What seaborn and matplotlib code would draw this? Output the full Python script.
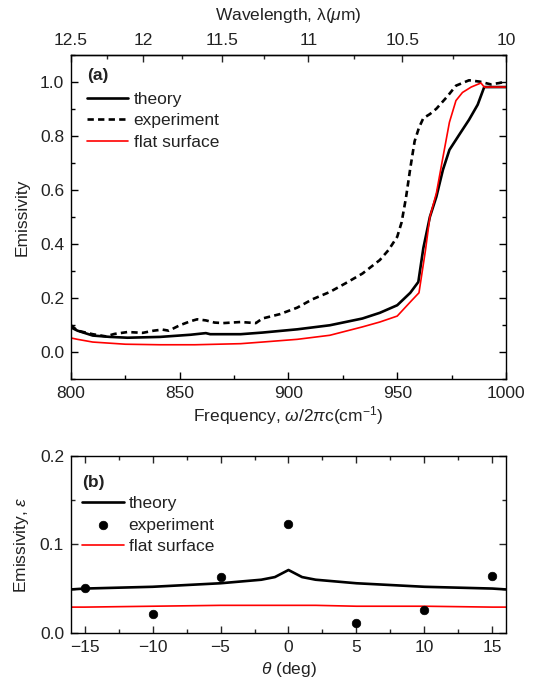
import numpy as np
import matplotlib
matplotlib.use("Agg")
import matplotlib.pyplot as plt
import seaborn as sns

# ---------------- data: panel (a) ----------------
theory_freq = [800, 803, 810, 818, 826, 841, 855, 862, 864, 878, 888, 904, 919, 934, 942,
               950, 956, 959.7, 962, 965, 968, 971, 974, 979, 983, 987, 990, 1000]
theory_em = [0.092, 0.080, 0.062, 0.057, 0.054, 0.057, 0.065, 0.071, 0.067, 0.067, 0.073,
             0.085, 0.100, 0.125, 0.146, 0.174, 0.220, 0.260, 0.385, 0.500, 0.575, 0.674,
             0.748, 0.810, 0.859, 0.915, 0.980, 0.980]

exp_freq = [800, 803, 810, 816, 820, 826, 833, 838, 842, 845, 850, 855, 858, 862, 866, 870,
            878, 885, 888, 896, 904, 911, 919, 926, 934, 942, 946, 950, 952, 954, 956, 958,
            960, 962, 965, 968, 973, 977, 983, 988, 993, 997, 1000]
exp_em = [0.100, 0.080, 0.067, 0.059, 0.068, 0.075, 0.072, 0.080, 0.084, 0.080, 0.100, 0.115,
          0.122, 0.118, 0.110, 0.108, 0.112, 0.108, 0.125, 0.141, 0.165, 0.196, 0.223, 0.254,
          0.291, 0.341, 0.378, 0.427, 0.480, 0.570, 0.680, 0.780, 0.830, 0.865, 0.880, 0.900,
          0.945, 0.985, 1.005, 1.000, 0.990, 0.995, 1.000]

flat_freq = [800, 803, 810, 825, 841, 857, 878, 888, 904, 919, 934, 942, 950, 956, 960, 963,
             965, 968, 971, 974, 977, 980, 984, 988.5, 990, 1000]
flat_em = [0.053, 0.048, 0.038, 0.030, 0.028, 0.028, 0.032, 0.038, 0.048, 0.063, 0.094, 0.112,
           0.134, 0.186, 0.220, 0.378, 0.500, 0.588, 0.720, 0.850, 0.930, 0.960, 0.980, 0.995,
           0.980, 0.980]

wl_ticks = [12.5, 12, 11.5, 11, 10.5, 10]
wl_labels = ["12.5", "12", "11.5", "11", "10.5", "10"]
wl_minor = [12.25, 11.75, 11.25, 10.75, 10.25]

# ---------------- data: panel (b) ----------------
theta_line = [-16, -15, -10, -5, -2, -1, 0, 1, 2, 5, 10, 15, 16]
theory_b = [0.049, 0.050, 0.052, 0.056, 0.060, 0.063, 0.071, 0.063, 0.060, 0.056, 0.052, 0.050, 0.049]
flat_b = [0.029, 0.029, 0.030, 0.031, 0.031, 0.031, 0.031, 0.031, 0.031, 0.030, 0.030, 0.029, 0.029]
exp_theta = [-15, -10, -5, 0, 5, 10, 15]
exp_b = [0.051, 0.021, 0.063, 0.123, 0.011, 0.026, 0.064]

# ---------------- style ----------------
sns.set_style("ticks")
plt.rcParams['font.family'] = ['Liberation Sans', 'DejaVu Sans']
plt.rcParams['mathtext.fontset'] = 'custom'
plt.rcParams['mathtext.rm'] = 'Liberation Sans'
plt.rcParams['mathtext.it'] = 'Liberation Sans:italic'
plt.rcParams['mathtext.bf'] = 'Liberation Sans:bold'
plt.rcParams['axes.linewidth'] = 1.0
FS = 12.5
TXT = '#222222'

fig = plt.figure(figsize=(5.33, 6.83), dpi=100)
axa = fig.add_axes([0.1332, 0.4445, 0.8161, 0.4756])
axb = fig.add_axes([0.1332, 0.0736, 0.8161, 0.2587])

RED = '#ff0000'

# ----- panel (a) -----
sns.lineplot(x=theory_freq, y=theory_em, ax=axa, color='black', lw=1.9, sort=False,
             estimator=None, label='theory')
sns.lineplot(x=exp_freq, y=exp_em, ax=axa, color='black', lw=1.9, sort=False,
             estimator=None, label='experiment', linestyle=(0, (2.4, 1.6)))
sns.lineplot(x=flat_freq, y=flat_em, ax=axa, color=RED, lw=1.2, sort=False,
             estimator=None, label='flat surface')

axa.set_xlim(800, 1000)
axa.set_ylim(-0.1, 1.1)
axa.set_xticks([800, 850, 900, 950, 1000])
axa.set_xticks([825, 875, 925, 975], minor=True)
axa.set_yticks([0.0, 0.2, 0.4, 0.6, 0.8, 1.0])
axa.set_yticks([-0.1, 0.1, 0.3, 0.5, 0.7, 0.9, 1.1], minor=True)
axa.set_yticklabels(['0.0', '0.2', '0.4', '0.6', '0.8', '1.0'])
axa.tick_params(which='both', direction='in', left=True, right=True, top=False, bottom=True,
                labelsize=FS, colors='black', labelcolor=TXT, width=1.0)
axa.tick_params(which='major', length=5, pad=5)
axa.tick_params(which='minor', length=3)
axa.set_xlabel(r'Frequency, $\omega$/2$\pi$c(cm$^{-1}$)', fontsize=FS, color=TXT, labelpad=2)
axa.set_ylabel('Emissivity', fontsize=FS, color=TXT, labelpad=7)

with np.errstate(divide='ignore', invalid='ignore'):
    sec = axa.secondary_xaxis('top', functions=(lambda f: 1e4 / np.asarray(f, float),
                                                 lambda l: 1e4 / np.asarray(l, float)))
sec.set_xticks(wl_ticks)
sec.set_xticklabels(wl_labels)
sec.set_xticks(wl_minor, minor=True)
sec.tick_params(which='both', direction='in', labelsize=FS, labelcolor=TXT, width=1.0)
sec.tick_params(which='major', length=5, pad=5)
sec.tick_params(which='minor', length=3)
sec.set_xlabel(r'Wavelength, λ($\mu$m)', fontsize=FS, color=TXT, labelpad=9)

axa.text(0.038, 0.937, '(a)', transform=axa.transAxes, fontsize=FS, fontweight='bold',
         color=TXT, va='center', ha='left')
h, l = axa.get_legend_handles_labels()
axa.legend(h, l, loc='upper left', bbox_to_anchor=(0.036, 0.886), frameon=False,
           fontsize=FS, handlelength=2.4, handletextpad=0.3, labelspacing=0.37,
           borderpad=0, borderaxespad=0, labelcolor=TXT)

# ----- panel (b) -----
sns.lineplot(x=theta_line, y=theory_b, ax=axb, color='black', lw=1.9, sort=False,
             estimator=None, label='theory')
sns.scatterplot(x=exp_theta, y=exp_b, ax=axb, color='black', s=38, edgecolor='black',
                linewidth=0.5, label='experiment', zorder=5)
sns.lineplot(x=theta_line, y=flat_b, ax=axb, color=RED, lw=1.2, sort=False,
             estimator=None, label='flat surface')

axb.set_xlim(-16, 16)
axb.set_ylim(0, 0.2)
axb.set_xticks([-15, -10, -5, 0, 5, 10, 15])
axb.set_xticks([-12.5, -7.5, -2.5, 2.5, 7.5, 12.5], minor=True)
axb.set_yticks([0.0, 0.1, 0.2])
axb.set_yticklabels(['0.0', '0.1', '0.2'])
axb.set_yticks([0.05, 0.15], minor=True)
axb.tick_params(which='both', direction='in', left=True, right=True, top=True, bottom=True,
                labelsize=FS, labelcolor=TXT, width=1.0)
axb.tick_params(which='major', length=5, pad=5)
axb.tick_params(which='minor', length=3)
axb.set_xlabel(r'$\theta$ (deg)', fontsize=FS, color=TXT, labelpad=4)
axb.set_ylabel(r'Emissivity, $\varepsilon$', fontsize=FS, color=TXT, labelpad=6)

axb.text(0.026, 0.853, '(b)', transform=axb.transAxes, fontsize=FS, fontweight='bold',
         color=TXT, va='center', ha='left')
hb, lb = axb.get_legend_handles_labels()
order = [lb.index('theory'), lb.index('experiment'), lb.index('flat surface')]
axb.legend([hb[i] for i in order], [lb[i] for i in order], loc='upper left',
           bbox_to_anchor=(0.025, 0.774), frameon=False, fontsize=FS, handlelength=2.4,
           handletextpad=0.3, labelspacing=0.37, borderpad=0, borderaxespad=0,
           labelcolor=TXT, scatterpoints=1)

for ax in (axa, axb):
    for s in ax.spines.values():
        s.set_visible(True)
        s.set_color('black')

fig.savefig('out.png', dpi=100)
